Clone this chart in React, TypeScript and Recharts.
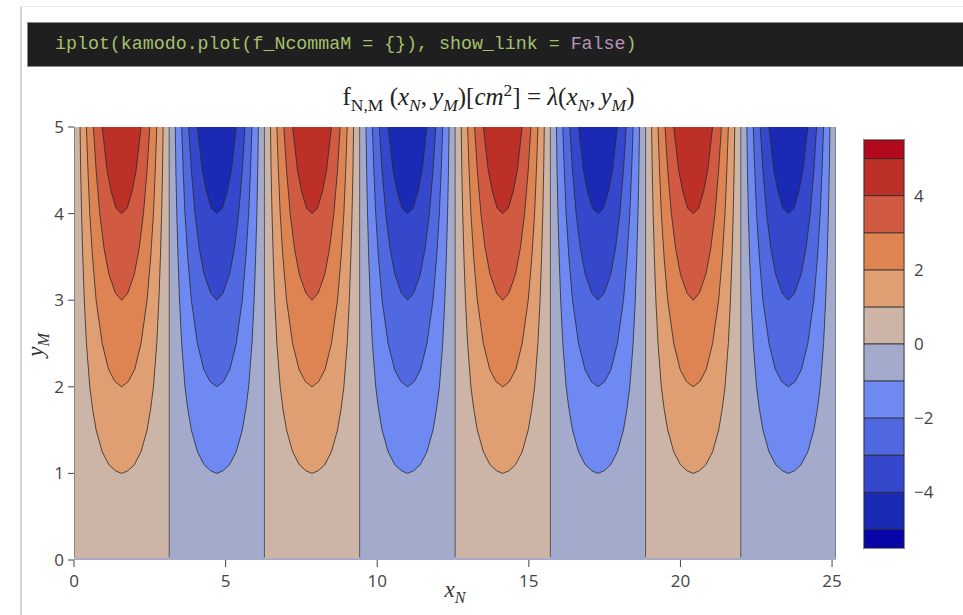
import React from "react";
import { ComposedChart, Area, Line, XAxis, YAxis, BarChart, Bar } from "recharts";

const xTicks = [0, 5, 10, 15, 20, 25];
const yTicks = [0, 1, 2, 3, 4, 5];
const cbTicks = [-4, -2, 0, 2, 4];

// x where the zero contour runs down the plot
const zeroCrossings = [0, 3.14, 6.28, 9.42, 12.57, 15.71, 18.85, 21.99, 25.13];
// middle of each lobe, and whether it rises (red) or falls (blue)
const lobeCenters = [1.57, 4.71, 7.85, 11.0, 14.14, 17.28, 20.42, 23.56];
const lobeSigns = [1, -1, 1, -1, 1, -1, 1, -1];

// contour outlines: [y, half width in x]
const level1 = [[1, 0], [1.03, 0.2], [1.1, 0.42], [1.25, 0.64], [1.5, 0.84], [1.75, 0.96], [2, 1.05], [2.5, 1.16], [3, 1.23], [3.5, 1.28], [4, 1.32], [4.5, 1.35], [5, 1.37]];
const level2 = [[2, 0], [2.06, 0.22], [2.2, 0.43], [2.5, 0.64], [3, 0.84], [3.5, 0.96], [4, 1.05], [4.5, 1.11], [5, 1.16]];
const level3 = [[3, 0], [3.08, 0.2], [3.3, 0.42], [3.6, 0.58], [4, 0.72], [4.5, 0.84], [5, 0.93]];
const level4 = [[4, 0], [4.06, 0.18], [4.25, 0.34], [4.5, 0.48], [5, 0.64]];
const levels = [level1, level2, level3, level4];

// colour bands, from 0 outwards (last one is the half band at the end)
const posBands = [1, 1, 1, 1, 1, 0.5];
const negBands = [-1, -1, -1, -1, -1, -0.5];
const posColors = ["#ccb4a6", "#e09f73", "#de8453", "#d15a43", "#bc3028", "#b10a1e"];
const negColors = ["#a4aacc", "#6e8af2", "#5068e0", "#3548cc", "#1a2ab4", "#0805a8"];

const TOP = 5;

function outline(center: number, profile: number[][]) {
  const left = profile
    .slice()
    .reverse()
    .map(([y, w]) => ({ x: center - w, y, band: [y, TOP] }));
  const right = profile.slice(1).map(([y, w]) => ({ x: center + w, y, band: [y, TOP] }));
  return [...left, ...right];
}

const strips = zeroCrossings.slice(0, -1).map((x0, i) => ({
  data: [
    { x: x0, band: [0, TOP] },
    { x: zeroCrossings[i + 1], band: [0, TOP] },
  ],
  fill: i % 2 === 0 ? posColors[0] : negColors[0],
}));

const contours = levels.flatMap((profile, li) =>
  lobeCenters.map((c, k) => ({
    key: `l${li}-${k}`,
    data: outline(c, profile),
    fill: lobeSigns[k] > 0 ? posColors[li + 1] : negColors[li + 1],
  }))
);

const cbRow: Record<string, any> = { name: "z" };
posBands.forEach((v, i) => (cbRow[`p${i}`] = v));
negBands.forEach((v, i) => (cbRow[`n${i}`] = v));
const cbData = [cbRow];

const minus = (v: number) => String(v).replace("-", "\u2212");

const tickStyle = { fontFamily: "'Open Sans', sans-serif", fontSize: 17, fill: "#444" };
const serif = "'Liberation Serif', 'DejaVu Serif', serif";
const sub = { fontSize: "0.7em" };

export default function App() {
  return (
    <div style={{ position: "absolute", left: 0, top: 0, width: 963, height: 615, background: "#fff", overflow: "hidden" }}>
      <div
        style={{
          position: "absolute",
          left: 20,
          top: 6,
          width: 960,
          height: 640,
          borderLeft: "2px solid #d6d6d6",
          borderTop: "1px solid #e8e8e8",
        }}
      />
      <div
        style={{
          position: "absolute",
          left: 27,
          top: 22,
          width: 950,
          height: 45,
          background: "#1f1f1f",
          border: "1px solid #8a8a8a",
          boxSizing: "border-box",
          fontFamily: "'Liberation Mono', monospace",
          fontSize: 18.3,
          lineHeight: "42px",
          paddingLeft: 27,
          color: "#a5c06e",
          whiteSpace: "pre",
        }}
      >
        iplot(kamodo.plot(f_NcommaM = {"{}"}), show_link = <span style={{ color: "#b892bd" }}>False</span>)
      </div>

      <div
        style={{
          position: "absolute",
          left: 0,
          width: 963,
          top: 80,
          textAlign: "center",
          fontFamily: serif,
          fontSize: 25,
          color: "#222",
          paddingLeft: 14,
          boxSizing: "border-box",
          whiteSpace: "nowrap",
        }}
      >
        f<sub style={sub}>N,M</sub> (<i>x</i>
        <sub style={sub}><i>N</i></sub>,&#8201;<i>y</i>
        <sub style={sub}><i>M</i></sub>)[<i>cm</i>
        <sup style={sub}>2</sup>] = <i>λ</i>(<i>x</i>
        <sub style={sub}><i>N</i></sub>,&#8201;<i>y</i>
        <sub style={sub}><i>M</i></sub>)
      </div>

      <div style={{ position: "absolute", left: 0, top: 0 }}>
        <ComposedChart width={963} height={615} margin={{ top: 127, right: 127, bottom: 25, left: 34 }}>
          <XAxis
            type="number"
            dataKey="x"
            domain={[0, 25.13]}
            ticks={xTicks}
            allowDataOverflow
            height={30}
            axisLine={false}
            tickLine={{ stroke: "#444" }}
            tickSize={7}
            tickMargin={8}
            tick={tickStyle}
          />
          <YAxis
            type="number"
            domain={[0, 5]}
            ticks={yTicks}
            allowDataOverflow
            width={40}
            axisLine={false}
            tickLine={{ stroke: "#444" }}
            tickSize={6}
            tickMargin={4}
            tick={tickStyle}
          />
          {strips.map((s, i) => (
            <Area
              key={`s${i}`}
              data={s.data}
              dataKey="band"
              type="linear"
              stroke="none"
              fill={s.fill}
              fillOpacity={1}
              isAnimationActive={false}
            />
          ))}
          <Area
            data={[
              { x: 0, band: [0, 0.02] },
              { x: 25.13, band: [0, 0.02] },
            ]}
            dataKey="band"
            type="linear"
            stroke="none"
            fill={negColors[0]}
            fillOpacity={1}
            isAnimationActive={false}
          />
          {contours.map((c) => (
            <Area
              key={c.key}
              data={c.data}
              dataKey="band"
              type="linear"
              stroke="none"
              fill={c.fill}
              fillOpacity={1}
              isAnimationActive={false}
            />
          ))}
          {zeroCrossings.map((x, i) => (
            <Line
              key={`z${i}`}
              data={[
                { x, y: 0.03 },
                { x, y: TOP },
              ]}
              dataKey="y"
              type="linear"
              stroke="#3a3a3a"
              strokeWidth={0.8}
              dot={false}
              isAnimationActive={false}
            />
          ))}
          {contours.map((c) => (
            <Line
              key={`c${c.key}`}
              data={c.data}
              dataKey="y"
              type="linear"
              stroke="#2a2a2a"
              strokeWidth={0.8}
              dot={false}
              isAnimationActive={false}
            />
          ))}
        </ComposedChart>
      </div>

      <div style={{ position: "absolute", left: 864, top: 140 }}>
        <BarChart
          width={80}
          height={408}
          data={cbData}
          stackOffset="sign"
          barCategoryGap={0}
          barGap={0}
          margin={{ top: 0, right: 0, bottom: 0, left: 0 }}
        >
          <XAxis dataKey="name" hide />
          <YAxis
            orientation="right"
            type="number"
            domain={[-5.5, 5.5]}
            ticks={cbTicks}
            allowDataOverflow
            width={40}
            axisLine={false}
            tickLine={false}
            tickMargin={4}
            tick={tickStyle}
            tickFormatter={minus}
          />
          {posBands.map((_, i) => (
            <Bar
              key={`p${i}`}
              dataKey={`p${i}`}
              stackId="cb"
              fill={posColors[i]}
              stroke="#2a2a2a"
              strokeWidth={0.8}
              isAnimationActive={false}
            />
          ))}
          {negBands.map((_, i) => (
            <Bar
              key={`n${i}`}
              dataKey={`n${i}`}
              stackId="cb"
              fill={negColors[i]}
              stroke="#2a2a2a"
              strokeWidth={0.8}
              isAnimationActive={false}
            />
          ))}
        </BarChart>
        <div
          style={{
            position: "absolute",
            left: -1,
            top: -1,
            width: 40,
            height: 408,
            border: "1px solid #888",
            pointerEvents: "none",
          }}
        />
      </div>

      <div
        style={{
          position: "absolute",
          left: 38,
          top: 345,
          transform: "translate(-50%, -50%) rotate(-90deg)",
          fontFamily: serif,
          fontSize: 23,
          fontStyle: "italic",
          color: "#333",
          whiteSpace: "nowrap",
        }}
      >
        y<sub style={sub}>M</sub>
      </div>
      <div
        style={{
          position: "absolute",
          left: 455,
          top: 592,
          transform: "translate(-50%, -50%)",
          fontFamily: serif,
          fontSize: 23,
          fontStyle: "italic",
          color: "#333",
          whiteSpace: "nowrap",
        }}
      >
        x<sub style={sub}>N</sub>
      </div>
    </div>
  );
}
